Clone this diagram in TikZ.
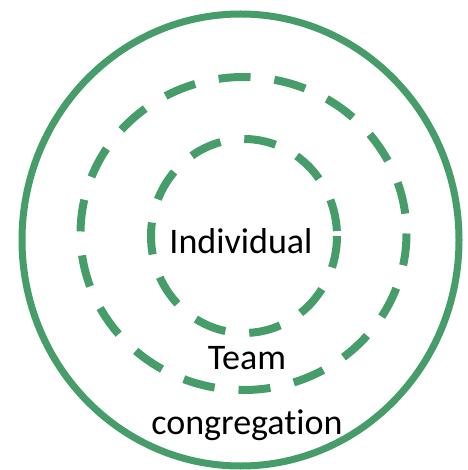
\documentclass[tikz,border=0pt]{standalone}
\usepackage{fontspec}
\setmainfont{Carlito}[Ligatures=NoCommon]
\definecolor{ringgreen}{RGB}{70,157,105}

\begin{document}
\begin{tikzpicture}[
    x=0.75pt, y=-0.75pt,
    ring/.style={draw=ringgreen, line width=5.25pt},
    dashring/.style={draw=ringgreen, line width=6pt, dash pattern=on 24pt off 18pt},
    label/.style={font=\fontsize{27}{32}\selectfont, text=black, inner sep=0pt}
]
\useasboundingbox (0,0) rectangle (467,470);

% outer ring
\draw[ring] (240.5,240) ellipse [x radius=218.5, y radius=226];

% middle ring
\draw[dashring] (243.5,233.5) ellipse [x radius=163, y radius=156.5];

% inner ring
\draw[dashring] (244,236) ellipse [x radius=93, y radius=97];

% labels
\node[label] (individual) at (241,241) {Individual};
\node[label] (team) at (247,358) {Team};
\node[label, anchor=base] (congregation) at (247,434) {congregation};

\end{tikzpicture}
\end{document}
